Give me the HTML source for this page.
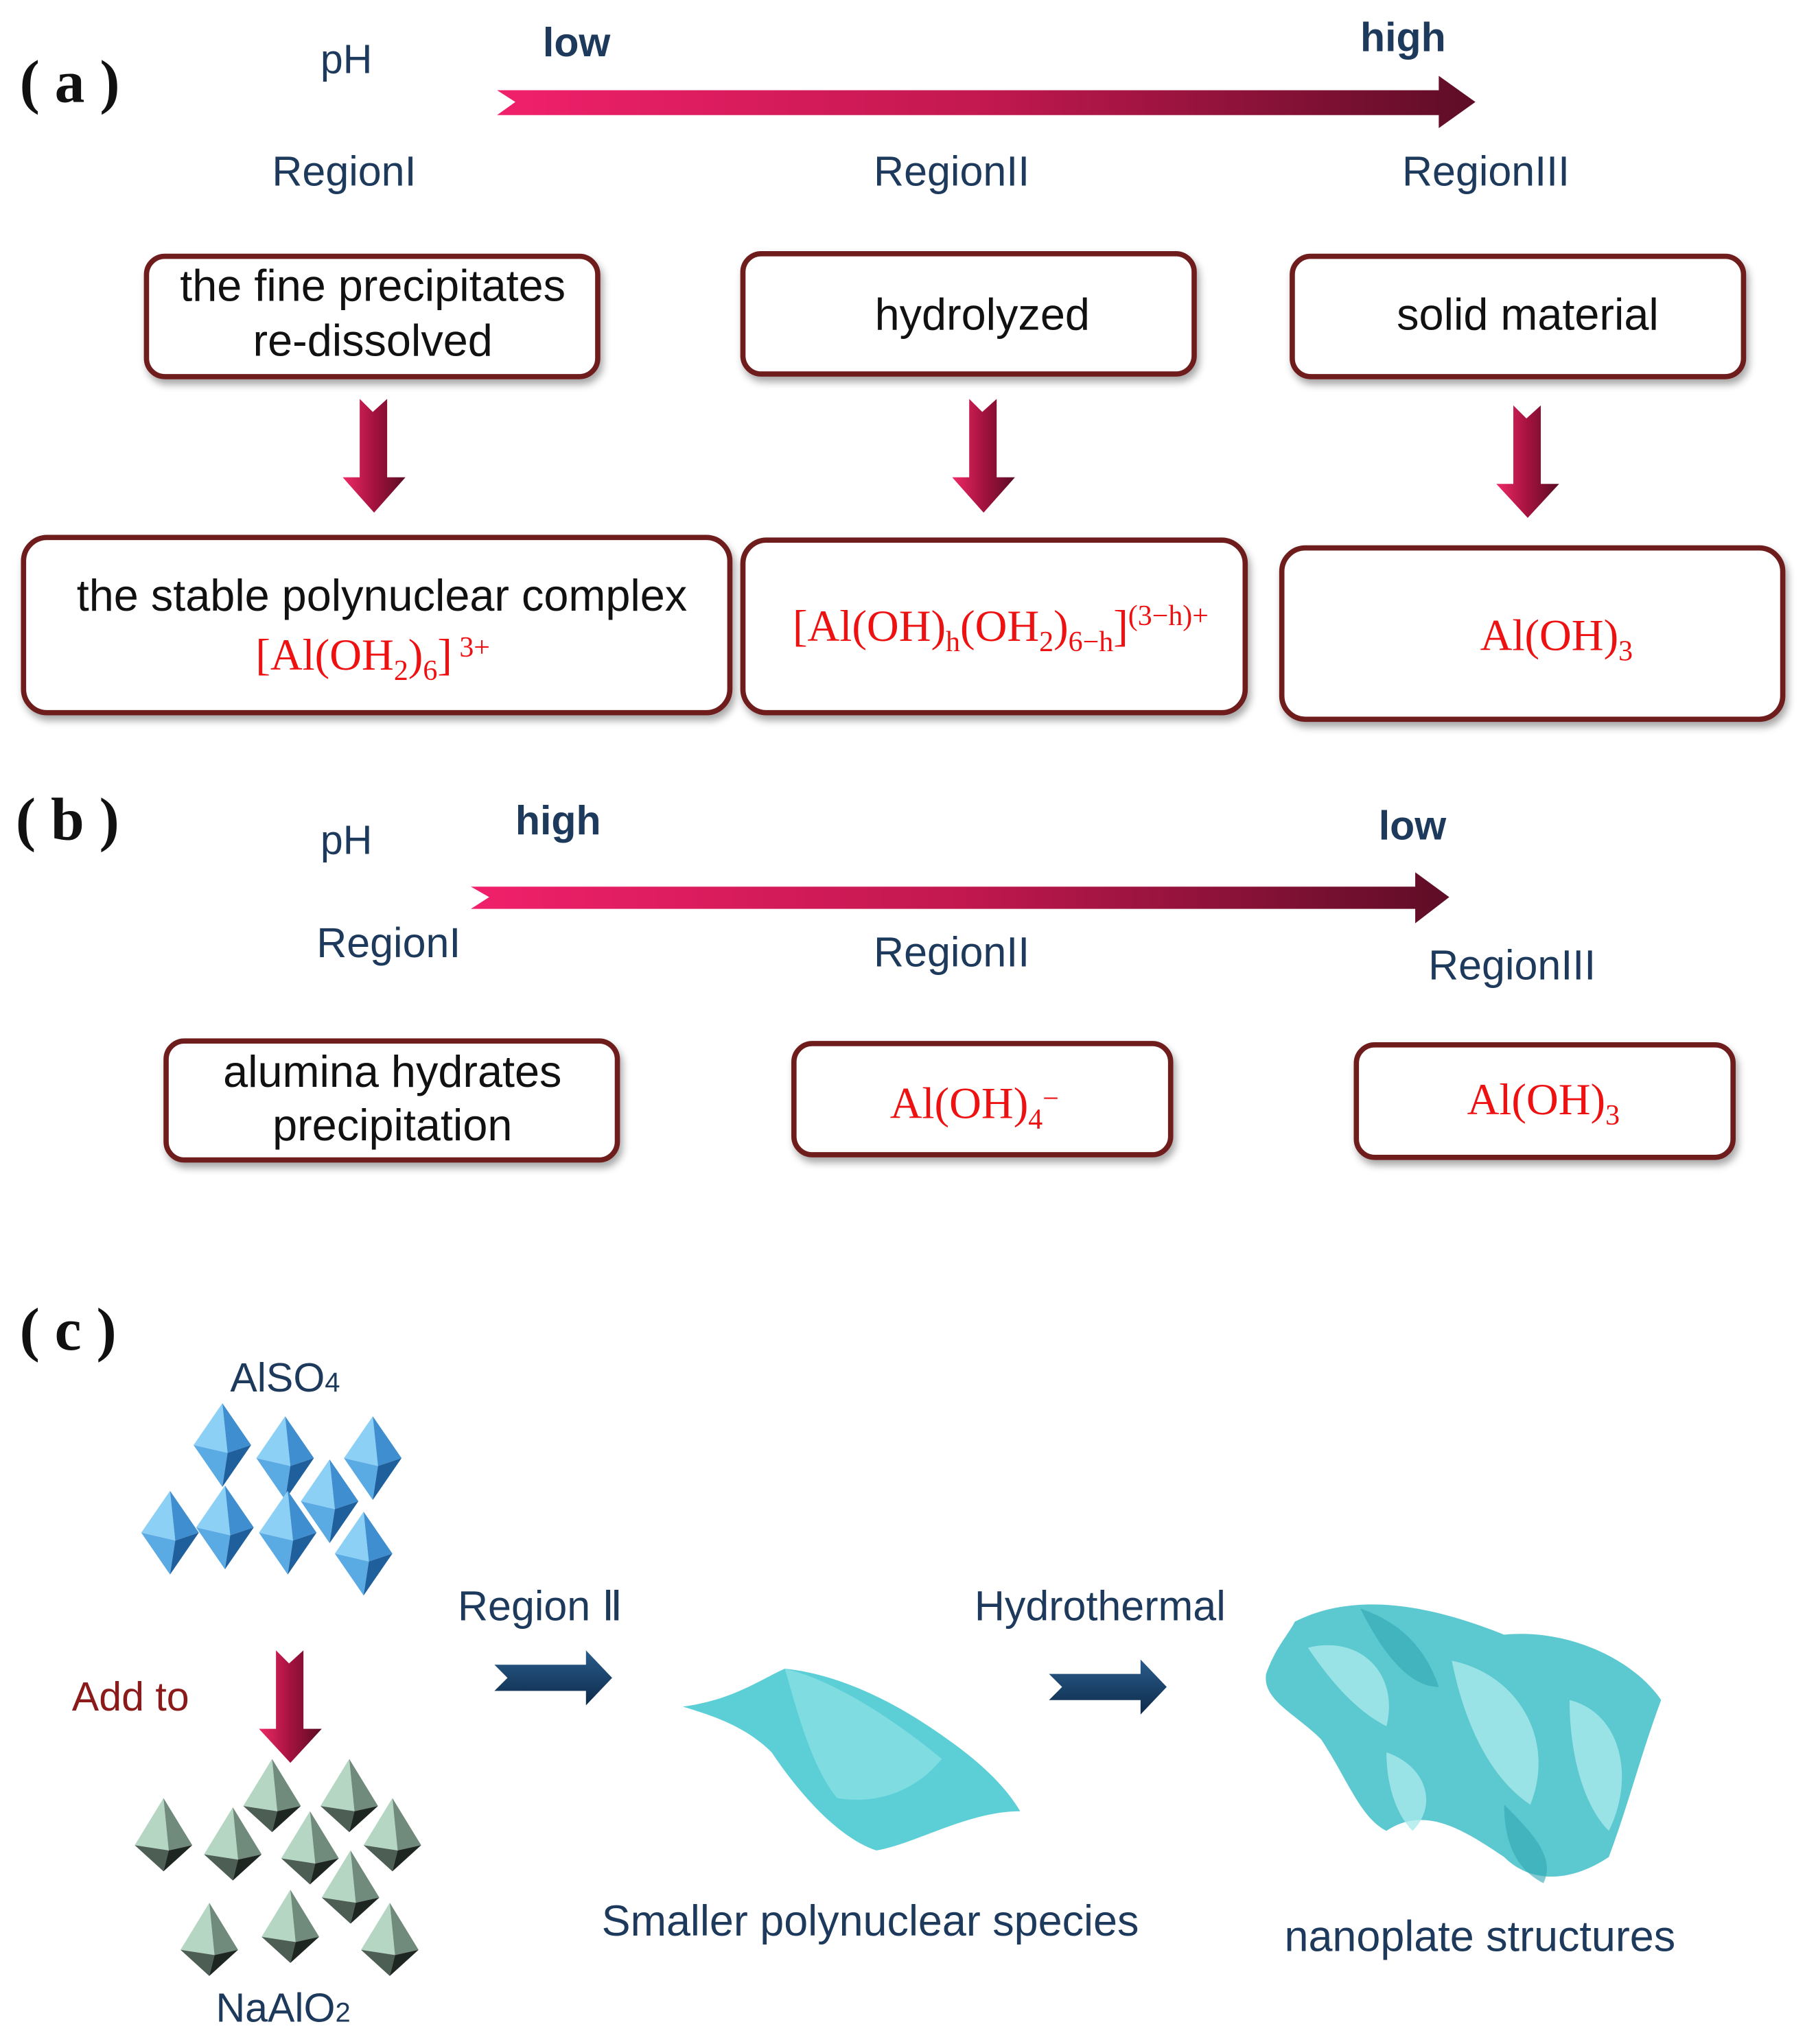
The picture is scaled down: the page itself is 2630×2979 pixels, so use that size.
<!DOCTYPE html>
<html><head><meta charset="utf-8"><style>
html,body{margin:0;padding:0;background:#fff;}
svg{display:block;}
.lab{font-family:"Liberation Sans",sans-serif;fill:#1d3a5c;}
.bx{font-family:"Liberation Sans",sans-serif;fill:#111;font-size:34px;text-anchor:middle;}
.chem{font-family:"Liberation Serif",serif;fill:#ee1111;font-size:34px;text-anchor:middle;}
.box{fill:#fff;stroke:#6e1c1c;stroke-width:4;filter:url(#sh);}
.tag{font-family:"Liberation Serif",serif;font-weight:bold;font-size:46px;fill:#111;}
</style></head><body>
<svg width="2630" height="2979" viewBox="0 0 1380 1563" preserveAspectRatio="none" xmlns="http://www.w3.org/2000/svg">
<defs>
<linearGradient id="hg" x1="0" x2="1" y1="0" y2="0"><stop offset="0" stop-color="#f0206a"/><stop offset="0.5" stop-color="#c2184f"/><stop offset="1" stop-color="#5e0d26"/></linearGradient>
<linearGradient id="dg" x1="0" x2="1"><stop offset="0" stop-color="#ee2a66"/><stop offset="0.5" stop-color="#a4123f"/><stop offset="1" stop-color="#5a0c24"/></linearGradient>
<linearGradient id="ng" x1="0" x2="0" y1="0" y2="1"><stop offset="0" stop-color="#2a5d8c"/><stop offset="1" stop-color="#0d2a4a"/></linearGradient>
<filter id="sh" x="-5%" y="-10%" width="110%" height="130%"><feDropShadow dx="2" dy="4" stdDeviation="3" flood-color="#000" flood-opacity="0.35"/></filter>
<symbol id="ob" viewBox="-25 -32 50 64" overflow="visible">
<polygon points="0,-32 -22,0 4,6" fill="#8cd0f5"/><polygon points="0,-32 4,6 22,0" fill="#3f8fd0"/>
<polygon points="-22,0 4,6 0,32" fill="#5aaae3"/><polygon points="4,6 22,0 0,32" fill="#1f5f9c"/></symbol>
<symbol id="og" viewBox="-25 -32 50 64" overflow="visible">
<polygon points="0,-32 -22,4 4,8" fill="#b6d6c4"/><polygon points="0,-32 4,8 22,4" fill="#708a7c"/>
<polygon points="-22,4 4,8 0,24" fill="#4d5e55"/><polygon points="4,8 22,4 0,24" fill="#1e2622"/></symbol>
</defs>

<!-- (a) -->
<text x="15" y="78" class="tag">( a )</text>
<text x="245" y="56" class="lab" font-size="31">pH</text>
<text x="415" y="43" class="lab" font-size="31" font-weight="bold" fill="#0f2a4a">low</text>
<text x="1040" y="39" class="lab" font-size="31" font-weight="bold" fill="#0f2a4a">high</text>
<polygon points="380,69 1100,69 1100,58 1128,78 1100,98 1100,88 380,88 394,78" fill="url(#hg)"/>
<text x="208" y="142" class="lab" font-size="32">RegionI</text>
<text x="668" y="142" class="lab" font-size="32">RegionII</text>
<text x="1072" y="142" class="lab" font-size="32">RegionIII</text>

<rect x="112" y="196" width="345" height="92" rx="14" class="box"/>
<text x="285" y="230" class="bx">the fine precipitates</text>
<text x="285" y="272" class="bx">re-dissolved</text>
<rect x="568" y="194" width="345" height="92" rx="14" class="box"/>
<text x="751" y="252" class="bx">hydrolyzed</text>
<rect x="988" y="196" width="345" height="92" rx="14" class="box"/>
<text x="1168" y="252" class="bx">solid material</text>

<g fill="url(#dg)">
<polygon points="275,305 285,315 296,305 296,365 310,365 286,392 262,365 275,365"/>
<polygon points="741,305 751,315 762,305 762,365 776,365 752,392 728,365 741,365"/>
<polygon points="1157,310 1167,320 1178,310 1178,370 1192,370 1168,396 1144,370 1157,370"/>
</g>

<rect x="18" y="411" width="540" height="134" rx="18" class="box"/>
<text x="292" y="467" class="bx" font-size="35">the stable polynuclear complex</text>
<text x="285" y="512" class="chem">[Al(OH<tspan font-size="22" dy="8">2</tspan><tspan dy="-8">)</tspan><tspan font-size="22" dy="8">6</tspan><tspan dy="-8">]</tspan><tspan font-size="22" dy="-10"> 3+</tspan></text>
<rect x="568" y="413" width="384" height="132" rx="18" class="box"/>
<text x="765" y="490" class="chem">[Al(OH)<tspan font-size="22" dy="8">h</tspan><tspan dy="-8">(OH</tspan><tspan font-size="22" dy="8">2</tspan><tspan dy="-8">)</tspan><tspan font-size="22" dy="8">6−h</tspan><tspan dy="-8">]</tspan><tspan font-size="22" dy="-12">(3−h)+</tspan></text>
<rect x="980" y="419" width="383" height="131" rx="18" class="box"/>
<text x="1190" y="497" class="chem">Al(OH)<tspan font-size="22" dy="8">3</tspan></text>

<!-- (b) -->
<text x="12" y="642" class="tag">( b )</text>
<text x="245" y="653" class="lab" font-size="31">pH</text>
<text x="394" y="638" class="lab" font-size="31" font-weight="bold" fill="#0f2a4a">high</text>
<text x="1054" y="642" class="lab" font-size="31" font-weight="bold" fill="#0f2a4a">low</text>
<polygon points="360,678 1082,678 1082,667 1108,686 1082,706 1082,695 360,695 374,686" fill="url(#hg)"/>
<text x="242" y="732" class="lab" font-size="32">RegionI</text>
<text x="668" y="739" class="lab" font-size="32">RegionII</text>
<text x="1092" y="749" class="lab" font-size="32">RegionIII</text>

<rect x="127" y="796" width="345" height="91" rx="14" class="box"/>
<text x="300" y="831" class="bx">alumina hydrates</text>
<text x="300" y="872" class="bx">precipitation</text>
<rect x="607" y="798" width="288" height="85" rx="14" class="box"/>
<text x="745" y="855" class="chem">Al(OH)<tspan font-size="22" dy="8">4</tspan><tspan font-size="22" dy="-16">−</tspan></text>
<rect x="1037" y="799" width="288" height="86" rx="14" class="box"/>
<text x="1180" y="852" class="chem">Al(OH)<tspan font-size="22" dy="8">3</tspan></text>

<!-- (c) -->
<text x="15" y="1032" class="tag">( c )</text>
<text x="176" y="1064" class="lab" font-size="31">AlSO<tspan font-size="21">4</tspan></text>
<use href="#ob" x="145" y="1073" width="50" height="64"/>
<use href="#ob" x="193" y="1083" width="50" height="64"/>
<use href="#ob" x="260" y="1083" width="50" height="64"/>
<use href="#ob" x="227" y="1116" width="50" height="64"/>
<use href="#ob" x="105" y="1140" width="50" height="64"/>
<use href="#ob" x="147" y="1136" width="50" height="64"/>
<use href="#ob" x="195" y="1140" width="50" height="64"/>
<use href="#ob" x="253" y="1156" width="50" height="64"/>

<text x="55" y="1308" font-family="Liberation Sans,sans-serif" font-size="31" fill="#8b1a1a">Add to</text>
<polygon points="211,1262 221,1272 232,1262 232,1322 246,1322 222,1348 198,1322 211,1322" fill="url(#dg)"/>

<use href="#og" x="183" y="1345" width="50" height="64"/>
<use href="#og" x="242" y="1345" width="50" height="64"/>
<use href="#og" x="100" y="1375" width="50" height="64"/>
<use href="#og" x="153" y="1382" width="50" height="64"/>
<use href="#og" x="212" y="1385" width="50" height="64"/>
<use href="#og" x="275" y="1375" width="50" height="64"/>
<use href="#og" x="243" y="1415" width="50" height="64"/>
<use href="#og" x="135" y="1455" width="50" height="64"/>
<use href="#og" x="197" y="1445" width="50" height="64"/>
<use href="#og" x="273" y="1455" width="50" height="64"/>
<text x="165" y="1546" class="lab" font-size="31">NaAlO<tspan font-size="21">2</tspan></text>

<text x="350" y="1239" class="lab" font-size="32">Region Ⅱ</text>
<polygon points="378,1273 448,1273 448,1262 468,1283 448,1304 448,1293 378,1293 388,1283" fill="url(#ng)"/>
<text x="745" y="1239" class="lab" font-size="32">Hydrothermal</text>
<polygon points="802,1280 872,1280 872,1269 892,1290 872,1311 872,1300 802,1300 812,1290" fill="url(#ng)"/>

<path d="M522,1305 C560,1300 580,1285 600,1276 C640,1280 680,1300 710,1320 C740,1340 765,1360 780,1385 C740,1385 700,1410 670,1415 C640,1405 610,1370 590,1340 C570,1320 545,1312 522,1305 Z" fill="#5ccfd6"/>
<path d="M600,1276 C640,1285 690,1320 720,1345 C700,1370 670,1380 640,1375 C620,1350 610,1310 600,1276 Z" fill="#8fe3e6" opacity="0.7"/>

<g fill="#5cc8d0">
<path d="M990,1240 C1040,1215 1100,1230 1150,1250 C1200,1245 1250,1270 1270,1300 C1255,1340 1245,1380 1230,1420 C1200,1440 1170,1440 1150,1420 C1120,1400 1090,1380 1060,1400 C1040,1390 1030,1360 1010,1330 C990,1310 965,1300 968,1280 C975,1260 985,1250 990,1240 Z"/>
</g>
<g fill="#a9eaec" opacity="0.8">
<path d="M1000,1260 C1040,1250 1070,1280 1060,1320 C1040,1310 1020,1290 1000,1260 Z"/>
<path d="M1110,1270 C1160,1280 1190,1330 1170,1380 C1140,1360 1120,1320 1110,1270 Z"/>
<path d="M1200,1300 C1240,1310 1250,1360 1230,1400 C1210,1380 1200,1340 1200,1300 Z"/>
<path d="M1060,1340 C1090,1350 1100,1380 1080,1400 C1065,1385 1060,1360 1060,1340 Z"/>
</g>
<g fill="#2fa7b3" opacity="0.6">
<path d="M1040,1230 C1070,1240 1090,1260 1100,1290 C1080,1290 1060,1270 1040,1230 Z"/>
<path d="M1150,1380 C1170,1400 1190,1420 1180,1440 C1160,1430 1150,1410 1150,1380 Z"/>
</g>

<text x="460" y="1480" class="lab" font-size="33">Smaller polynuclear species</text>
<text x="982" y="1492" class="lab" font-size="33">nanoplate structures</text>
</svg>
</body></html>
